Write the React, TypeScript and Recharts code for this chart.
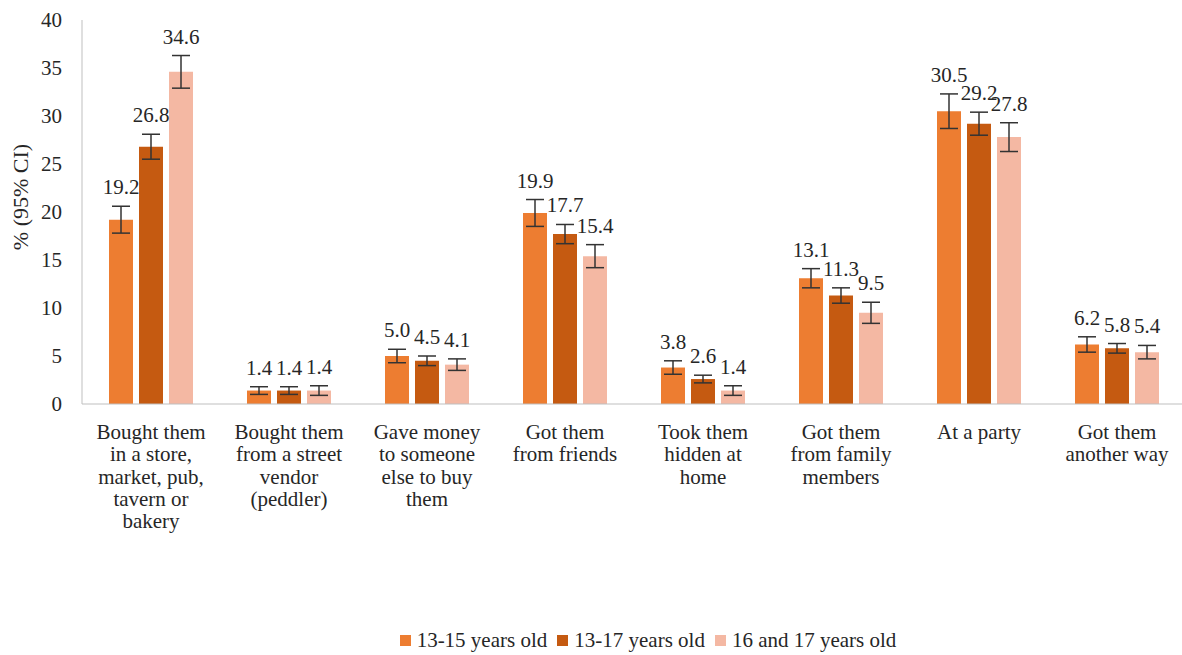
import { Bar, BarChart, ErrorBar, Legend, XAxis, YAxis } from "recharts";

const categories = [
  "Bought them\nin a store,\nmarket, pub,\ntavern or\nbakery",
  "Bought them\nfrom a street\nvendor\n(peddler)",
  "Gave money\nto someone\nelse to buy\nthem",
  "Got them\nfrom friends",
  "Took them\nhidden at\nhome",
  "Got them\nfrom family\nmembers",
  "At a party",
  "Got them\nanother way",
];

const age1315 = [19.2, 1.4, 5.0, 19.9, 3.8, 13.1, 30.5, 6.2];
const age1317 = [26.8, 1.4, 4.5, 17.7, 2.6, 11.3, 29.2, 5.8];
const age1617 = [34.6, 1.4, 4.1, 15.4, 1.4, 9.5, 27.8, 5.4];

// half-width of the 95% CI
const err1315 = [1.4, 0.4, 0.7, 1.4, 0.7, 1.0, 1.8, 0.8];
const err1317 = [1.3, 0.4, 0.5, 1.0, 0.4, 0.8, 1.2, 0.5];
const err1617 = [1.7, 0.5, 0.6, 1.2, 0.5, 1.1, 1.5, 0.7];

const yTicks = [0, 5, 10, 15, 20, 25, 30, 35, 40];

const series = [
  { key: "a", name: "13-15 years old", values: age1315, errors: err1315, color: "#ED7D31" },
  { key: "b", name: "13-17 years old", values: age1317, errors: err1317, color: "#C55A11" },
  { key: "c", name: "16 and 17 years old", values: age1617, errors: err1617, color: "#F4B8A3" },
];

const data = categories.map((label, i) => {
  const row: Record<string, string | number> = { label };
  series.forEach((s) => {
    row[s.key] = s.values[i];
    row[s.key + "Err"] = s.errors[i];
  });
  return row;
});

const FONT = "Liberation Serif, Tinos, DejaVu Serif, serif";
const TEXT = "#262626";

function CategoryTick(props: any) {
  const { x, y, payload } = props;
  const lines = String(payload.value).split("\n");
  return (
    <text x={x} y={y} textAnchor="middle" fontFamily={FONT} fontSize={21} fill={TEXT}>
      {lines.map((line, i) => (
        <tspan key={i} x={x} dy={i === 0 ? 27 : 22.3}>
          {line}
        </tspan>
      ))}
    </text>
  );
}

function makeValueLabel(errors: number[]) {
  return (props: any) => {
    const vb = props.viewBox ?? props;
    const x = props.x ?? vb.x;
    const y = props.y ?? vb.y;
    const width = props.width ?? vb.width;
    const height = props.height ?? vb.height;
    const value = Number(props.value);
    const err = errors[props.index] ?? 1;
    const errPx = value ? (err * height) / value : 0;
    return (
      <text
        x={x + width / 2}
        y={y - errPx - 12}
        textAnchor="middle"
        fontFamily={FONT}
        fontSize={21}
        fill={TEXT}
      >
        {value.toFixed(1)}
      </text>
    );
  };
}

function LegendContent() {
  return (
    <div
      style={{
        display: "flex",
        justifyContent: "center",
        alignItems: "center",
        height: 30,
        fontFamily: FONT,
        fontSize: 21,
        color: TEXT,
        paddingLeft: 110,
      }}
    >
      {series.map((s, i) => (
        <span
          key={s.key}
          style={{ display: "inline-flex", alignItems: "center", marginRight: i < series.length - 1 ? 10 : 0 }}
        >
          <span style={{ width: 11, height: 11, background: s.color, display: "inline-block", marginRight: 6 }} />
          {s.name}
        </span>
      ))}
    </div>
  );
}

export default function App() {
  return (
    <div style={{ position: "absolute", top: 0, left: 0, width: 1182, height: 655, overflow: "hidden", background: "#fff" }}>
      <BarChart
        width={1186}
        height={655}
        data={data}
        margin={{ top: 20, right: 0, left: 0, bottom: 0 }}
        barGap={6}
      >
        <XAxis
          dataKey="label"
          interval={0}
          height={221}
          tickLine={false}
          stroke="#bfbfbf"
          tick={<CategoryTick />}
        />
        <YAxis
          width={82}
          domain={[0, 40]}
          ticks={yTicks}
          tickLine={false}
          tickMargin={14}
          stroke="#bfbfbf"
          tick={{ fill: TEXT, fontFamily: FONT, fontSize: 21 }}
          label={{
            value: "% (95% CI)",
            angle: -90,
            position: "insideLeft",
            offset: 20,
            dy: -15,
            style: { fill: TEXT, fontFamily: FONT, fontSize: 22, textAnchor: "middle" },
          }}
        />
        <Legend verticalAlign="bottom" height={30} content={<LegendContent />} />
        {series.map((s) => (
          <Bar
            key={s.key}
            dataKey={s.key}
            name={s.name}
            fill={s.color}
            barSize={24}
            isAnimationActive={false}
            label={makeValueLabel(s.errors)}
          >
            <ErrorBar dataKey={s.key + "Err"} width={9} stroke="#333" strokeWidth={1.5} />
          </Bar>
        ))}
      </BarChart>
    </div>
  );
}
